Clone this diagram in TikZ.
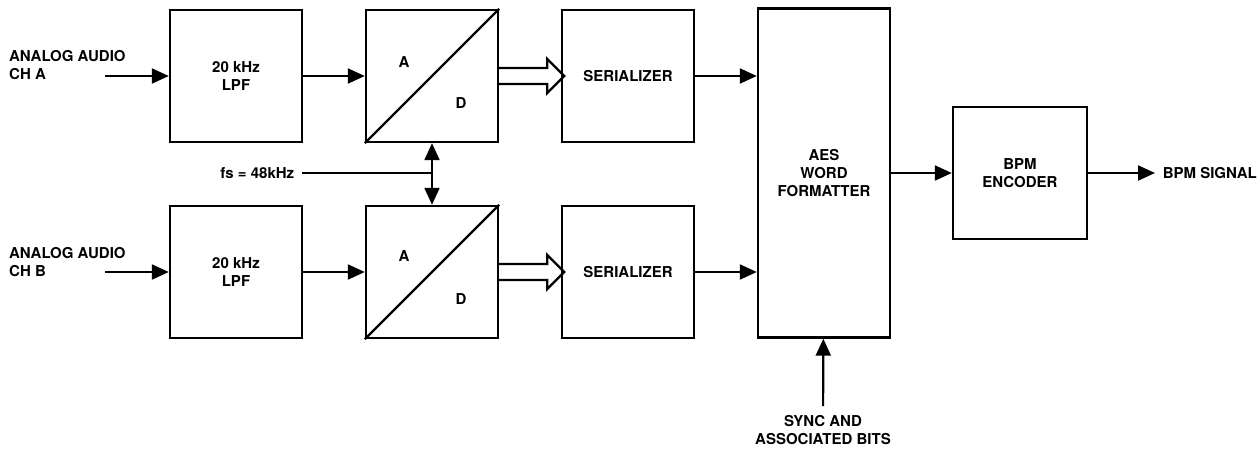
\documentclass[tikz,border=0pt]{standalone}
\usepackage{fontspec}
\setmainfont{TeX Gyre Heros}
\usepackage{tikz}
\usetikzlibrary{arrows.meta}
\tikzset{blk/.style={draw, line width=1.2pt, minimum width=66pt, minimum height=66pt, align=center},
lbl/.style={align=left, inner sep=0pt}}

\begin{document}
\begin{tikzpicture}[x=0.5pt, y=-0.5pt, line width=1.1pt,
  >={Triangle[length=8.5pt,width=7.5pt]},
  every node/.style={font=\bfseries\fontsize{7.5}{9}\selectfont}]
\useasboundingbox (0,0) rectangle (1260,450);
% upper channel
\node[blk] (lpfA) at (236,76) {20 kHz\\LPF};
\node[blk] (adA) at (432,76) {};
\node[blk] (serA) at (628,76) {SERIALIZER};
% lower channel
\node[blk] (lpfB) at (236,272) {20 kHz\\LPF};
\node[blk] (adB) at (432,272) {};
\node[blk] (serB) at (628,272) {SERIALIZER};
% formatter and encoder
\node[blk, minimum height=164.5pt] (aes) at (824,173) {AES\\WORD\\FORMATTER};
\node[blk, minimum width=67pt] (bpm) at (1020,173) {BPM\\ENCODER};
% A/D converters
\draw[line width=1.2pt] (adA.south west) -- (adA.north east);
\draw[line width=1.2pt] (adB.south west) -- (adB.north east);
\node[xshift=-14pt, yshift=7pt] at (adA) {A};
\node[xshift=14.5pt, yshift=-13.5pt] at (adA) {D};
\node[xshift=-14pt, yshift=8pt] at (adB) {A};
\node[xshift=14.5pt, yshift=-13.5pt] at (adB) {D};
% inputs
\node[lbl, anchor=north west] (inA) at (8,49) {ANALOG AUDIO\\CH A};
\node[lbl, anchor=north west] (inB) at (8,246) {ANALOG AUDIO\\CH B};
\coordinate (srcA) at (105,76);
\coordinate (srcB) at (105,272);
\draw[->] (srcA) -- (lpfA.west);
\draw[->] (srcB) -- (lpfB.west);
\draw[->] (lpfA) -- (adA);
\draw[->] (lpfB) -- (adB);
% parallel buses
\draw[line width=1.2pt] (adA.east) ++(0,-8) -- ++(48,0) -- ++(0,-9) -- ++(17,17)
  -- ++(-17,17) -- ++(0,-9) -- ++(-48,0);
\draw[line width=1.2pt] (adB.east) ++(0,-8) -- ++(48,0) -- ++(0,-9) -- ++(17,17)
  -- ++(-17,17) -- ++(0,-9) -- ++(-48,0);
\draw[->] (serA) -- (aes.west |- serA);
\draw[->] (serB) -- (aes.west |- serB);
% sample clock
\node[anchor=east] (fs) at (302,173) {fs = 48kHz};
\draw (fs.east) -- (adA.south |- fs);
\draw[<->] (adA) -- (adB);
% sync bits
\node[align=center, anchor=north, inner ysep=4pt] (sync) at (823,406) {SYNC AND\\ASSOCIATED BITS};
\draw[->] (sync) -- (aes);
% output
\draw[->] (aes.east |- bpm) -- (bpm);
\node[anchor=west] (sig) at (1155,173) {BPM SIGNAL};
\draw[->] (bpm) -- (sig);
%\draw[help lines] (0,0) grid[step=50] (1260,450);
\end{tikzpicture}
\end{document}
